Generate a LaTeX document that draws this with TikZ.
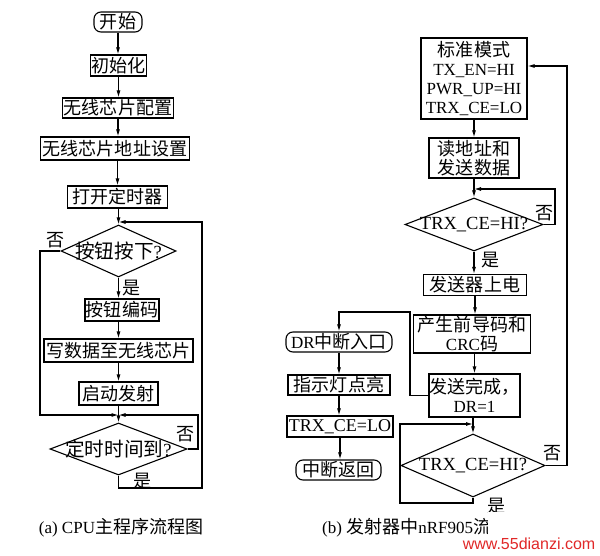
\documentclass[tikz,border=0pt]{standalone}
\usepackage{fontspec}
\setmainfont{Liberation Serif}
\setsansfont{Liberation Sans}
\newfontfamily\cjk{Noto Sans CJK SC}[Scale=1.06]
\newcommand{\C}[1]{{\cjk #1}}
\usetikzlibrary{arrows.meta,shapes.geometric}
\definecolor{wmred}{RGB}{225,40,40}
\begin{document}
\begin{tikzpicture}[x=1pt,y=-1pt,
  every node/.style={font=\fontsize{17}{19}\selectfont},
  box/.style={draw, line width=1.1pt, rectangle, inner sep=0pt, align=center},
  rbox/.style={box, rounded corners=7pt},
  dia/.style={draw, line width=1.1pt, diamond, inner sep=0pt, font=\fontsize{18.5}{20}\selectfont},
  conn/.style={line width=1.1pt},
  arr/.style={conn, -{Latex[length=7pt,width=4pt]}},
  lbl/.style={inner sep=0pt}]
\fill[white] (0,0) rectangle (600,556);
\useasboundingbox (0,0) rectangle (600,556);

% ---------- (a) ----------
\node[rbox,minimum width=48,minimum height=20] (a0) at (118,22) {\C{开始}};
\node[box,minimum width=56,minimum height=21] (a1) at (118.5,65.5) {\C{初始化}};
\node[box,minimum width=111,minimum height=20] (a2) at (118,108) {\C{无线芯片配置}};
\node[box,minimum width=149,minimum height=23] (a3) at (115,148.5) {\C{无线芯片地址设置}};
\node[box,minimum width=100,minimum height=22] (a4) at (117.5,197) {\C{打开定时器}};
\node[dia,minimum width=115,minimum height=52] (d1) at (118.5,251) {\makebox[0pt]{\C{按钮按下}?}};
\node[box,minimum width=74,minimum height=22] (a5) at (122,310) {\C{按钮编码}};
\node[box,minimum width=149,minimum height=23] (a6) at (118.5,350.5) {\C{写数据至无线芯片}};
\node[box,minimum width=79,minimum height=23] (a7) at (118.5,393.5) {\C{启动发射}};
\node[dia,minimum width=137,minimum height=52] (d2) at (118.5,449) {\makebox[0pt]{\C{定时时间到}?}};

\coordinate (j1) at (118.5,222);
\coordinate (j2) at (118.5,415);
\coordinate (r1) at (202,488);
\coordinate (l1) at (40,415);
\coordinate (r2) at (198,415);

\draw[arr] (a0.south) -- (a0.south |- a1.north);
\draw[arr] (a1.south) -- (a1.south |- a2.north);
\draw[arr] (a2.south) -- (a2.south |- a3.north);
\draw[arr] (a3.south -| a4.north) -- (a4.north);
\draw[arr] (a4.south -| d1.north) -- (d1.north);
\draw[arr] (d1.south) -- (d1.south |- a5.north);
\draw[arr] (a5.south -| a6.north) -- (a6.north);
\draw[arr] (a6.south) -- (a7.north);
\draw[arr] (a7.south) -- (d2.north);
\draw[arr] (d2.south) |- (r1) |- (j1);
\draw[arr] (d1.west) -| (l1) -- (j2);
\draw[arr] (d2.east) -| (r2) -- (j2);

\node[lbl] (n1) at (56,240) {\C{否}};
\node[lbl] (y1) at (132,288) {\C{是}};
\node[lbl] (n2) at (186,434) {\C{否}};
\node[lbl] (y2) at (143,481) {\C{是}};

\node[lbl] (capa) at (121,528) {(a) CPU\C{主程序流程图}};

% ---------- (b) ----------
\node[box,minimum width=106,minimum height=81] (s0) at (474,78.5)
  {\C{标准模式}\\TX\_EN=HI\\PWR\_UP=HI\\TRX\_CE=LO};
\node[box,minimum width=90,minimum height=40] (s1) at (474,158) {\C{读地址和}\\\C{发送数据}};
\node[dia,minimum width=138,minimum height=53] (e1) at (474,224.5) {\makebox[0pt]{TRX\_CE=HI?}};
\node[box,minimum width=103,minimum height=21] (s2) at (475,285) {\C{发送器上电}};
\node[box,minimum width=117,minimum height=38] (s3) at (472,334) {\C{产生前导码和}\\CRC\C{码}};
\node[box,minimum width=91,minimum height=43] (s4) at (474.5,395.5) {\C{发送完成，}\\DR=1};
\node[dia,minimum width=144,minimum height=63] (e2) at (473,465.5) {\makebox[0pt]{TRX\_CE=HI?}};

\node[rbox,minimum width=106,minimum height=20] (i0) at (339,342) {DR\C{中断入口}};
\node[box,minimum width=102,minimum height=20] (i1) at (339,385) {\C{指示灯点亮}};
\node[box,minimum width=106,minimum height=21,font=\fontsize{18}{19}\selectfont] (i2) at (340,426.5) {TRX\_CE=LO};
\node[rbox,minimum width=85,minimum height=20] (i3) at (338.5,470) {\C{中断返回}};

\coordinate (j3) at (474,189);
\coordinate (r3) at (555,189);
\coordinate (j4) at (473,424);
\coordinate (l4) at (400,503);
\coordinate (r4) at (567,66);
\coordinate (m1) at (410,312);

\draw[arr] (s0.south) -- (s0.south |- s1.north);
\draw[arr] (s1.south) -- (e1.north);
\draw[arr] (e1.east) -| (r3) -- (j3);
\draw[arr] (e1.south) -- (e1.south |- s2.north);
\draw[arr] (s2.south) -- (s2.south |- s3.north);
\draw[arr] (s3.south -| s4.north) -- (s4.north);
\draw[arr] (s4.south -| e2.north) -- (e2.north);
\draw[arr] (e2.south) |- (l4) |- (j4);
\draw[arr] (e2.east) -| (r4) -- (r4 -| s0.east);
\draw[arr] (s4.west) -| (m1) -| (i0.north);
\draw[arr] (i0.south) -- (i0.south |- i1.north);
\draw[arr] (i1.south) -- (i1.south |- i2.north);
\draw[arr] (i2.south) -- (i2.south |- i3.north);

\node[lbl] (n3) at (545,213) {\C{否}};
\node[lbl] (y3) at (491,260) {\C{是}};
\node[lbl] (n4) at (553,453) {\C{否}};
\node[lbl] (y4) at (497,506) {\C{是}};

\node[lbl,anchor=west] (capb) at (322,528) {(b) \C{发射器中}nRF905\C{流}};
\fill[white] (488,512) rectangle (600,556);
\node[lbl,text=wmred,font=\sffamily\fontsize{16}{18}\selectfont] (wm) at (529,544) {www.55dianzi.com};
\end{tikzpicture}
\end{document}
